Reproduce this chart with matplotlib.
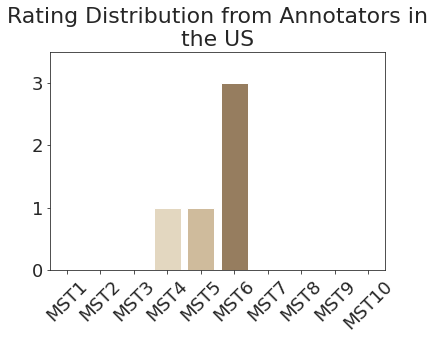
import matplotlib
matplotlib.use('Agg')
import matplotlib.pyplot as plt
import seaborn as sns

# 标注者评分分布
categories = ['MST1', 'MST2', 'MST3', 'MST4', 'MST5', 'MST6', 'MST7', 'MST8', 'MST9', 'MST10']
counts = [0, 0, 0, 1, 1, 3, 0, 0, 0, 0]
colors = ['#f0e8dd', '#ede3d6', '#efe3cb', '#e3d7c0', '#cfbb9c', '#967d5f',
          '#7a5f4c', '#5c4538', '#3a322c', '#2a2622']

sns.set_style('ticks')
plt.rcParams['font.family'] = ['DejaVu Sans']

fig = plt.figure(figsize=(435 / 72, 340 / 72), dpi=72)
ax = fig.add_axes([0.115, 0.206, 0.77, 0.641])
ax.bar(categories, counts, color=colors, width=0.8, edgecolor='white', linewidth=1)
ax.set_xlim(-0.5, 9.5)
ax.set_ylim(0, 3.5)
ax.set_yticks([0, 1, 2, 3])
ax.tick_params(axis='both', labelsize=18, colors='#262626')
plt.setp(ax.get_xticklabels(), rotation=45)
ax.set_title('Rating Distribution from Annotators in\nthe US', fontsize=22,
             color='#262626')

fig.savefig('out.png', dpi=72)
